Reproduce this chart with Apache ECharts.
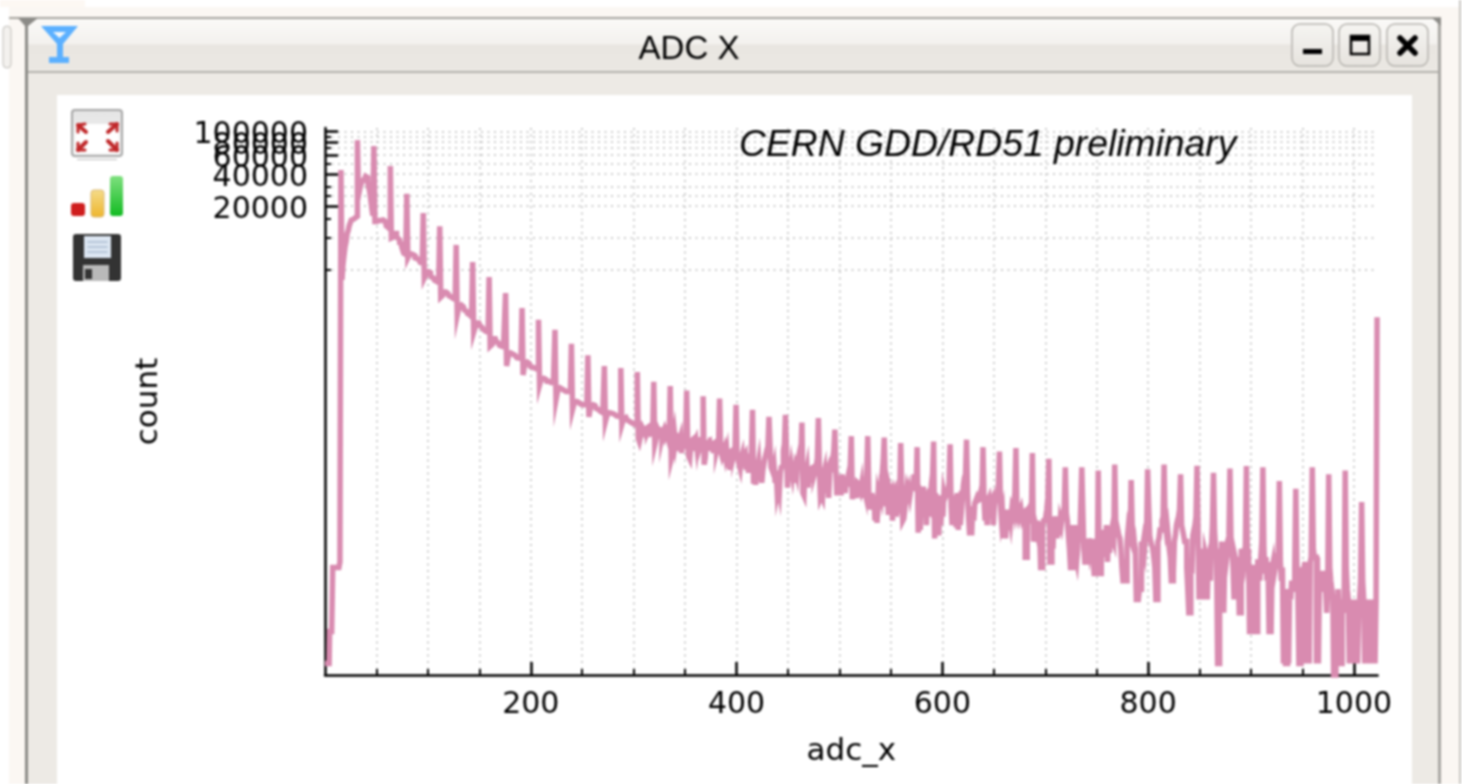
<!DOCTYPE html>
<html><head><meta charset="utf-8">
<style>html,body{margin:0;padding:0;background:#fff}#c{width:1462px;height:784px;filter:blur(0.8px)}</style>
<script src="https://cdn.jsdelivr.net/npm/echarts@6/dist/echarts.min.js"></script>
</head><body><div id="c"></div>
<script>
const windowTitle = 'ADC X';
const annotation = 'CERN GDD/RD51 preliminary';
const xTickValues = [200,400,600,800,1000];
const yLabelsA = [20000,60000];
const yLabelsB = [40000,100000];
const yLabelsC = [80000];
const yMinorTickValues = [5000,10000,25000,30000,50000,70000,90000];
const yBareTickValues = [15000];
// counts per ADC bin, 16 bins per row
const counts = [
1,1,1,1,1,2,2,2,8,8,8,8,8,8,8,9,
43500,4030,5650,6900,8300,9200,11000,11700,13000,13800,14750,15000,15500,15500,15500,16000,
83000,25000,28000,31000,33000,34500,36000,37000,38000,37000,33500,30000,27000,22700,19000,16200,
73000,14300,14300,14600,14600,14600,14600,14750,14750,14600,14300,13800,13100,13100,12500,12000,
47500,10000,10200,10500,11000,11000,10500,10000,9600,9000,8800,8300,7700,7200,7000,6800,
26000,6500,6800,7100,7200,7200,7000,6800,6500,6400,6300,6200,6000,5900,5800,5700,
17100,4200,4400,4600,4800,4800,4700,4500,4300,4200,4100,4000,3900,3800,3800,3760,
12900,2780,2900,3000,3100,3100,3050,3000,2900,2850,2800,2750,2700,2650,2650,2620,
8600,1890,2100,2250,2340,2300,2250,2200,2100,2050,2000,1950,1900,1850,1820,1800,
5950,1300,1400,1500,1590,1590,1550,1500,1450,1400,1380,1350,1330,1310,1300,1300,
4300,960,1000,1080,1130,1130,1100,1060,1030,1000,980,960,950,950,940,940,
3030,625,720,800,830,830,810,800,790,770,760,750,745,740,740,740,
2190,515,600,660,680,680,660,640,620,610,600,600,600,590,600,600,
1700,415,450,470,480,480,470,460,450,450,440,440,435,435,435,435,
1370,302,340,375,390,390,385,380,375,370,365,360,360,360,360,360,
1010,243,265,285,290,290,285,280,275,275,270,270,270,270,270,270,
790,208,240,265,270,270,265,260,250,245,240,235,232,230,228,228,
625,188,205,220,228,228,225,225,220,220,218,215,212,212,205,205,
600,176,190,200,205,200,195,190,185,185,180,180,178,178,176,176,
550,130,122,135,150,165,158,150,160,165,150,158,160,145,150,155,
445,114,125,140,158,150,158,155,135,150,158,140,150,158,130,120,
405,84,92,130,150,120,140,135,100,125,135,95,128,132,105,118,
368,115,88,84,110,125,130,100,120,127,105,125,127,110,118,122,
325,74,85,110,118,122,100,120,115,122,95,118,122,100,110,118,
310,100,92,103,95,103,88,98,70,95,66,88,100,103,95,105,
270,92,82,74,68,85,92,70,88,92,66,85,62,80,90,95,
243,49,60,48,62,70,80,58,72,50,65,75,85,92,102,110,
208,110,70,66,62,70,50,65,40,45,40,62,70,72,100,115,
218,100,45,62,68,55,70,60,72,50,66,60,85,90,100,90,
184,40,38,70,60,68,45,66,68,50,66,68,60,65,72,85,
203,64,36,38,36,60,66,40,62,66,36,64,66,66,85,100,
158,64,38,55,42,58,38,60,45,56,40,52,50,58,65,72,
137,35,50,36,52,36,50,48,45,42,48,36,45,42,38,60,
137,40,34,28,40,30,38,22,36,21,38,34,42,38,60,80,
133,50,30,45,25,44,40,42,22,40,42,24,38,36,32,36,
118,42,22,23,28,36,44,40,44,38,44,45,42,60,48,45,
108,17,32,18,40,38,46,28,40,20,42,24,44,38,50,60,
122,15,40,24,38,16,36,20,38,24,40,36,38,40,42,50,
115,30,20,32,20,38,19,40,18,36,20,42,36,48,56,60,
127,40,24,16,25,16,30,22,32,34,36,34,35,38,42,40,
108,34,22,38,20,34,36,30,32,34,20,30,36,35,40,48,
98,30,22,25,15,26,15,23,28,18,26,22,28,26,30,40,
106,26,28,24,26,28,24,26,27,10,10,24,26,24,26,24,
95,14,16,20,18,22,14,18,8,8,20,22,22,24,28,36,
84,9,9,22,12,24,20,24,15,24,16,22,20,24,26,30,
70,26,22,16,12,8,8,20,14,20,10,9,12,18,14,30,
70,28,12,9,9,14,14,15,12,14,14,10,7,7,10,7,
65,7,7,14,18,10,18,14,20,9,16,11,16,18,15,14,
74,22,20,18,16,15,12,8,6,6,6,6,14,18,16,15,
53,20,18,14,12,4,4,4,5,5,14,12,14,12,16,18,
67,30,16,14,13,12,10,8,4,4,14,15,18,18,22,24,
74,22,18,20,16,12,10,6,6,7,14,16,20,22,24,28,
60,20,18,16,14,14,8,5,3,3,8,7,16,18,20,24,
72,18,4,10,12,4,12,4,11,10,4,10,11,6,12,20,
62,18,12,11,1,1,12,3,14,9,3,11,12,10,12,16,
68,15,13,8,4,10,9,4,10,3,3,12,9,12,10,13,
72,8,12,2,2,8,7,8,8,2,2,9,9,6,10,14,
70,12,7,10,6,9,2,2,2,8,9,7,8,9,10,11,
52,9,6,8,1,5,1,1,5,1,5,4,6,5,5,8,
44,9,5,1,1,8,7,6,8,9,1,6,8,1,9,10,
70,12,10,10,1,10,1,7,5,5,7,7,6,5,3,5,
60,8,6,5,4,0.5,0.5,4,4,5,3,1,1,4,3,4,
65,8,5,4,1,4,1,3,1,4,1,4,1,3,4,6,
33,6,4,1,3,1,4,1,3,1,4,1,3,1,4,1800
];

const chart = echarts.init(document.getElementById('c'), null, {renderer:'canvas'});
const rect = (x,y,w,h,fill,extra={}) => Object.assign({type:'rect',z:-10,silent:true,shape:{x,y,width:w,height:h,r:extra.r||0},style:{fill,stroke:extra.stroke,lineWidth:extra.lw||0}},extra.z?{z:extra.z}:{});
const poly = (pts,fill,z=10) => ({type:'polygon',z,silent:true,shape:{points:pts},style:{fill}});
const seg = (x1,y1,x2,y2,stroke,lw,z=10) => ({type:'line',z,silent:true,shape:{x1,y1,x2,y2},style:{stroke,lineWidth:lw,lineCap:'round'}});
const vgrad = stops => ({type:'linear',x:0,y:0,x2:0,y2:1,colorStops:stops});
const barGrad = vgrad([{offset:0,color:'#fbfaf8'},{offset:0.48,color:'#f3f1ee'},{offset:0.5,color:'#e9e6e1'},{offset:1,color:'#ebe8e3'}]);
const btnGrad = vgrad([{offset:0,color:'#f6f5f2'},{offset:1,color:'#e6e3de'}]);
const chrome = [
  rect(0,7,1462,777,'#fbf7f3'), rect(85,0,1377,7,'#ffffff'), rect(0,0,85,7,'#fdf8f3'),
  rect(0,7,9,777,'#ffffff'), rect(1461,0,1,784,'#ffffff'),
  rect(1459,0,2,784,'#c8c6c2'),
  rect(26,18,1415,766,'#edeae5'),
  rect(26,18,1411,54,barGrad),
  rect(9,17,1432,2,'#a5a39e'),
  rect(26,71,1415,2,'#b3b1ac'),
  rect(25,18,3,766,'#8c8b87'),
  rect(1438,18,3,766,'#a9a7a3'),
  poly([[18,18],[38,18],[28,26],[25,26]],'#8c8b87',-5),
  poly([[1432,18],[1441,18],[1441,26]],'#8c8b87',-5),
  rect(3,26,8,42,'#f3f1ee',{r:4,stroke:'#c0beb9',lw:1}),
  rect(57,95,1355,689,'#ffffff'),
  // blue window icon
  poly([[41,26],[78,26],[63,44],[63,57],[69,57],[69,63],[49,63],[49,57],[57,57],[57,44]],'#5bb0ff'),
  poly([[53,32],[66,32],[59.5,38]],'#f4f8fb',11),
  // window buttons
  rect(1292,24,41,42,btnGrad,{r:8,stroke:'#b5b3ae',lw:1.5,z:5}),
  rect(1339,24,41,42,btnGrad,{r:8,stroke:'#b5b3ae',lw:1.5,z:5}),
  rect(1387,24,41,42,btnGrad,{r:8,stroke:'#b5b3ae',lw:1.5,z:5}),
  rect(1303,49,19,5,'#000',{z:6}),
  rect(1351,36,18,5,'#000',{z:6}),
  rect(1351,36,18,18,'none',{stroke:'#000',lw:2.5,z:6}),
  seg(1400,38,1415,53,'#000',5.5), seg(1415,38,1400,53,'#000',5.5),
  // toolbar: fit
  rect(72,110,50,46,vgrad([{offset:0,color:'#e4e4e4'},{offset:1,color:'#f4f4f4'}]),{r:3,stroke:'#a5a5a5',lw:2,z:5}),
  rect(75,124,44,29,'#ffffff',{z:6}),
  rect(77,159,40,1,'#bbbbbb',{z:6}),
  seg(78,125,86,132,'#c0282a',4), seg(78,125,85,124,'#c0282a',3), seg(78,125,78,132,'#c0282a',3),
  seg(117,124,108,132,'#c0282a',4), seg(117,124,110,124,'#c0282a',3), seg(117,124,117,131,'#c0282a',3),
  seg(78,150,86,142,'#c0282a',4), seg(78,150,85,150,'#c0282a',3), seg(78,150,78,143,'#c0282a',3),
  seg(117,150,108,141,'#c0282a',4), seg(117,150,110,150,'#c0282a',3), seg(117,150,117,143,'#c0282a',3),
  // toolbar: bars
  rect(71,203,14,13,'#cf1d1d',{r:3,z:5}),
  rect(91,190,13,27,vgrad([{offset:0,color:'#f5dc8a'},{offset:1,color:'#eeb52c'}]),{r:3,z:5,stroke:'#d9b878',lw:1}),
  rect(110,176,13,40,vgrad([{offset:0,color:'#7fe07f'},{offset:1,color:'#12bb22'}]),{r:3,z:5}),
  // toolbar: save
  rect(73,234,48,47,'#333333',{r:3,z:5}),
  rect(84,236,27,22,'#dce6f2',{z:6}),
  seg(88,242,107,242,'#a9bcd0',1.5), seg(88,247,107,247,'#a9bcd0',1.5), seg(88,252,107,252,'#a9bcd0',1.5),
  rect(83,265,26,16,'#b9b9b9',{z:6}),
  rect(85,269,7,10,'#333333',{z:7}),
  // texts
  {type:'text',z:20,silent:true,style:{x:689,y:50,text:windowTitle,fill:'#000',font:'33px "Liberation Sans", sans-serif',align:'center',verticalAlign:'middle'}},
  {type:'text',z:20,silent:true,style:{x:739,y:146,text:annotation,fill:'#000',font:'italic 37.3px "Liberation Sans", sans-serif',align:'left',verticalAlign:'middle'}}
];
const labelFont = {fontFamily:'"DejaVu Sans"',fontSize:30,color:'#000',formatter:v=>String(v)};
const yLabel = {margin:17,showMaxLabel:true,showMinLabel:true,fontFamily:'"DejaVu Sans"',fontSize:30,color:'#000',
  formatter:v=>'{a|'+v+'}',rich:{a:{fontFamily:'"DejaVu Sans"',fontSize:30,color:'#000',padding:[8,0,0,0]}}};
const dotted = {color:'#cdcdcd',type:[2,4.5],width:2};
const logBase = {type:'log',logBase:10,min:0.78,max:108000,position:'left',offset:0};
const labelled = vals => ({...logBase,axisLine:{show:false},
    axisTick:{show:true,inside:true,length:13,customValues:vals,lineStyle:{color:'#000',width:2.5}},
    axisLabel:{customValues:vals,...yLabel},splitLine:{show:true,lineStyle:dotted}});
const bare = (vals,rows) => ({...logBase,axisLine:{show:false},
    axisTick:{show:true,inside:true,length:6,customValues:vals,lineStyle:{color:'#000',width:2}},
    axisLabel:{show:false},splitLine:{show:rows,lineStyle:dotted}});
chart.setOption({
  animation:false,
  backgroundColor:'transparent',
  graphic:{elements:chrome},
  grid:{left:325,top:128,width:1052.6,height:547,containLabel:false},
  xAxis:{type:'value',min:0,max:1023,interval:200,name:'adc_x',nameLocation:'middle',nameGap:61,
    nameTextStyle:{fontFamily:'"DejaVu Sans"',fontSize:31,color:'#000'},
    axisLine:{show:true,onZero:false,lineStyle:{color:'#000',width:2.5}},
    axisTick:{show:true,inside:true,length:13,customValues:xTickValues,lineStyle:{color:'#000',width:2.5}},
    minorTick:{show:true,splitNumber:4,length:6,lineStyle:{color:'#000',width:2}},
    axisLabel:{customValues:xTickValues,margin:15,...labelFont},
    splitLine:{show:true,lineStyle:dotted},
    minorSplitLine:{show:true,lineStyle:dotted}},
  yAxis:[
   {...labelled(yLabelsA),name:'count',nameLocation:'middle',nameGap:161,nameRotate:90,
    nameTextStyle:{fontFamily:'"DejaVu Sans"',fontSize:31,color:'#000'},
    axisLine:{show:true,onZero:false,lineStyle:{color:'#000',width:2.5}}},
   labelled(yLabelsB),
   labelled(yLabelsC),
   bare(yMinorTickValues,true),
   bare(yBareTickValues,false)
  ],
  series:[{type:'line',data:counts.map((c,i)=>[i,c]),showSymbol:false,symbol:'none',sampling:false,clip:true,step:'middle',
    lineStyle:{color:'#d98bb0',width:5.5,join:'miter'},itemStyle:{color:'#d98bb0'},emphasis:{disabled:true},z:3}]
});
</script></body></html>
